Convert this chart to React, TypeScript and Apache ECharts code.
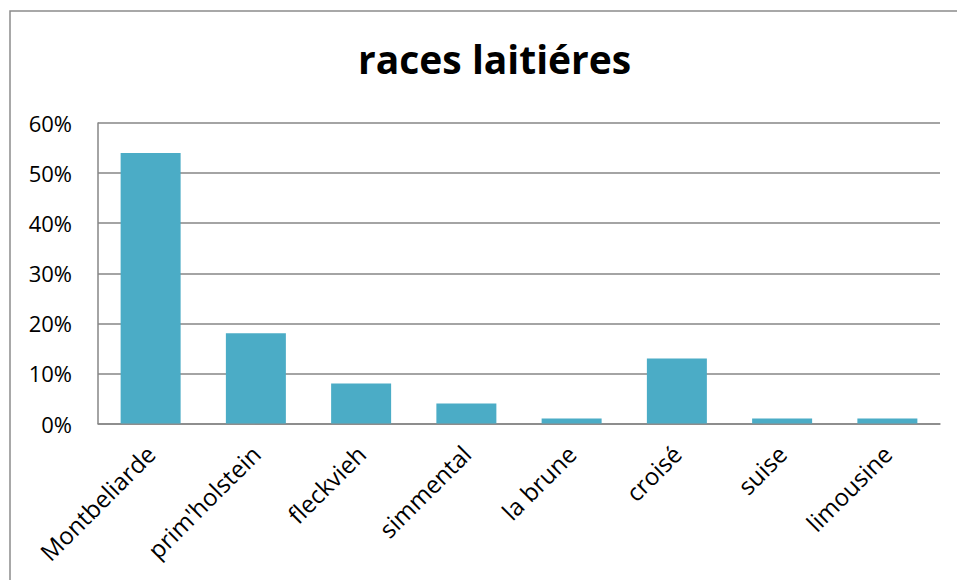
import React, { useEffect, useRef } from "react";
import * as echarts from "echarts";

const categories = ["Montbeliarde", "prim'holstein", "fleckvieh", "simmental", "la brune", "croisé", "suise", "limousine"];
const values = [0.54, 0.18, 0.08, 0.04, 0.01, 0.13, 0.01, 0.01];
const titleText = "races laitiéres";

export default function App() {
  const ref = useRef<HTMLDivElement>(null);
  useEffect(() => {
    document.body.style.margin = "0";
    const chart = echarts.init(ref.current!, null, { renderer: "svg" });
    const font = "'Open Sans', 'Noto Sans', sans-serif";
    chart.setOption({
      animation: false,
      backgroundColor: "#ffffff",
      title: {
        text: titleText,
        left: 353,
        top: 34,
        textStyle: { fontFamily: font, fontSize: 39, fontWeight: "bold", color: "#000" },
      },
      graphic: [
        {
          type: "rect",
          shape: { x: 10, y: 11, width: 1000, height: 700 },
          style: { fill: "none", stroke: "#8c8c8c", lineWidth: 1.5 },
          silent: true,
        },
      ],
      grid: { left: 98, right: 17, top: 123, bottom: 156.5, containLabel: false },
      xAxis: {
        type: "category",
        data: categories,
        axisLine: { show: true, lineStyle: { color: "#868686", width: 1.5 } },
        axisTick: { show: false },
        axisLabel: {
          rotate: 45,
          interval: 0,
          margin: 26,
          fontFamily: font,
          fontSize: 24,
          color: "#000",
        },
      },
      yAxis: {
        type: "value",
        min: 0,
        max: 0.6,
        interval: 0.1,
        axisLine: { show: true, lineStyle: { color: "#868686", width: 1.5 } },
        axisTick: { show: false },
        splitLine: { show: true, lineStyle: { color: "#868686", width: 1.5 } },
        axisLabel: {
          margin: 26,
          fontFamily: font,
          fontSize: 22,
          color: "#000",
          formatter: (v: number) => `${Math.round(v * 100)}%`,
        },
      },
      series: [
        {
          type: "bar",
          data: values,
          barWidth: "57%",
          itemStyle: { color: "#4BACC6" },
        },
      ],
    });
    return () => chart.dispose();
  }, []);
  return <div ref={ref} style={{ width: 957, height: 580 }} />;
}
